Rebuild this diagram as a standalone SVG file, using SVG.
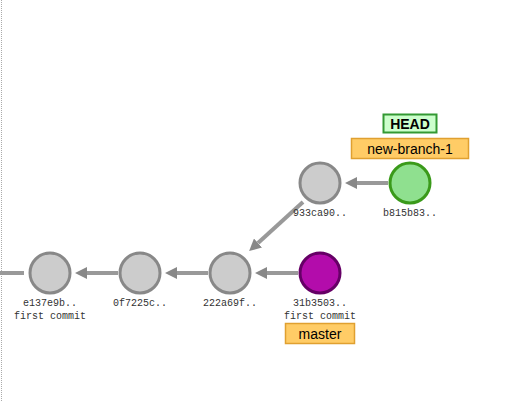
<svg xmlns="http://www.w3.org/2000/svg" width="517" height="401" viewBox="0 0 517 401">
<defs>
<marker id="ah" markerWidth="12" markerHeight="12" viewBox="0 0 12 12" refX="0" refY="6" orient="auto" markerUnits="userSpaceOnUse">
<path d="M0,0 L12,6 L0,12 z" fill="#888"/>
</marker>
</defs>
<style>
.c{fill:#cccccc;stroke:#888888;stroke-width:3}
.e{stroke:#999999;stroke-width:4;fill:none}
.t{font-family:"Liberation Mono","DejaVu Sans Mono",monospace;font-size:10px;fill:#333;text-anchor:middle}
.lb{font-family:"Liberation Sans",Arial,sans-serif;font-size:14px;fill:#000;text-anchor:middle}
</style>
<rect x="0" y="0" width="517" height="401" fill="#fff"/>
<line x1="1.5" y1="0" x2="1.5" y2="401" stroke="#aaa" stroke-width="1" stroke-dasharray="1,1"/>
<g id="edges">
<line class="e" x1="0" y1="273" x2="24" y2="273"/>
<line class="e" x1="118" y1="273" x2="87" y2="273" marker-end="url(#ah)"/>
<line class="e" x1="208" y1="273" x2="177" y2="273" marker-end="url(#ah)"/>
<line class="e" x1="298" y1="273" x2="267" y2="273" marker-end="url(#ah)"/>
<line class="e" x1="388" y1="183" x2="357" y2="183" marker-end="url(#ah)"/>
<line class="e" x1="303" y1="202" x2="258" y2="243" marker-end="url(#ah)"/>
</g>
<g id="n-e137e9b">
<circle class="c" cx="50" cy="273" r="20"/>
<text class="t" x="50" y="306">e137e9b..</text>
<text class="t" x="50" y="319">first commit</text>
</g>
<g id="n-0f7225c">
<circle class="c" cx="140" cy="273" r="20"/>
<text class="t" x="140" y="306">0f7225c..</text>
</g>
<g id="n-222a69f">
<circle class="c" cx="230" cy="273" r="20"/>
<text class="t" x="230" y="306">222a69f..</text>
</g>
<g id="n-31b3503">
<circle cx="320" cy="273" r="20" fill="#b30cab" stroke="#660066" stroke-width="3"/>
<text class="t" x="320" y="306">31b3503..</text>
<text class="t" x="320" y="319">first commit</text>
</g>
<g id="n-933ca90">
<circle class="c" cx="320" cy="183" r="20"/>
<text class="t" x="320" y="216">933ca90..</text>
</g>
<g id="n-b815b83">
<circle cx="410" cy="183" r="20" fill="#8fe08f" stroke="#3a9a1a" stroke-width="3"/>
<text class="t" x="410" y="216">b815b83..</text>
</g>
<g id="l-master">
<rect x="285.5" y="323.5" width="69" height="20" fill="#ffcc66" stroke="#e0a030" stroke-width="1.5"/>
<text class="lb" x="320" y="339">master</text>
</g>
<g id="l-new-branch-1">
<rect x="351.5" y="138.5" width="117" height="20" fill="#ffcc66" stroke="#e0a030" stroke-width="1.5"/>
<text class="lb" x="410" y="154">new-branch-1</text>
</g>
<g id="l-HEAD">
<rect x="383.5" y="114.5" width="53" height="18" fill="#ccffcc" stroke="#339933" stroke-width="2"/>
<text class="lb" x="410" y="129" font-weight="bold">HEAD</text>
</g>
</svg>
